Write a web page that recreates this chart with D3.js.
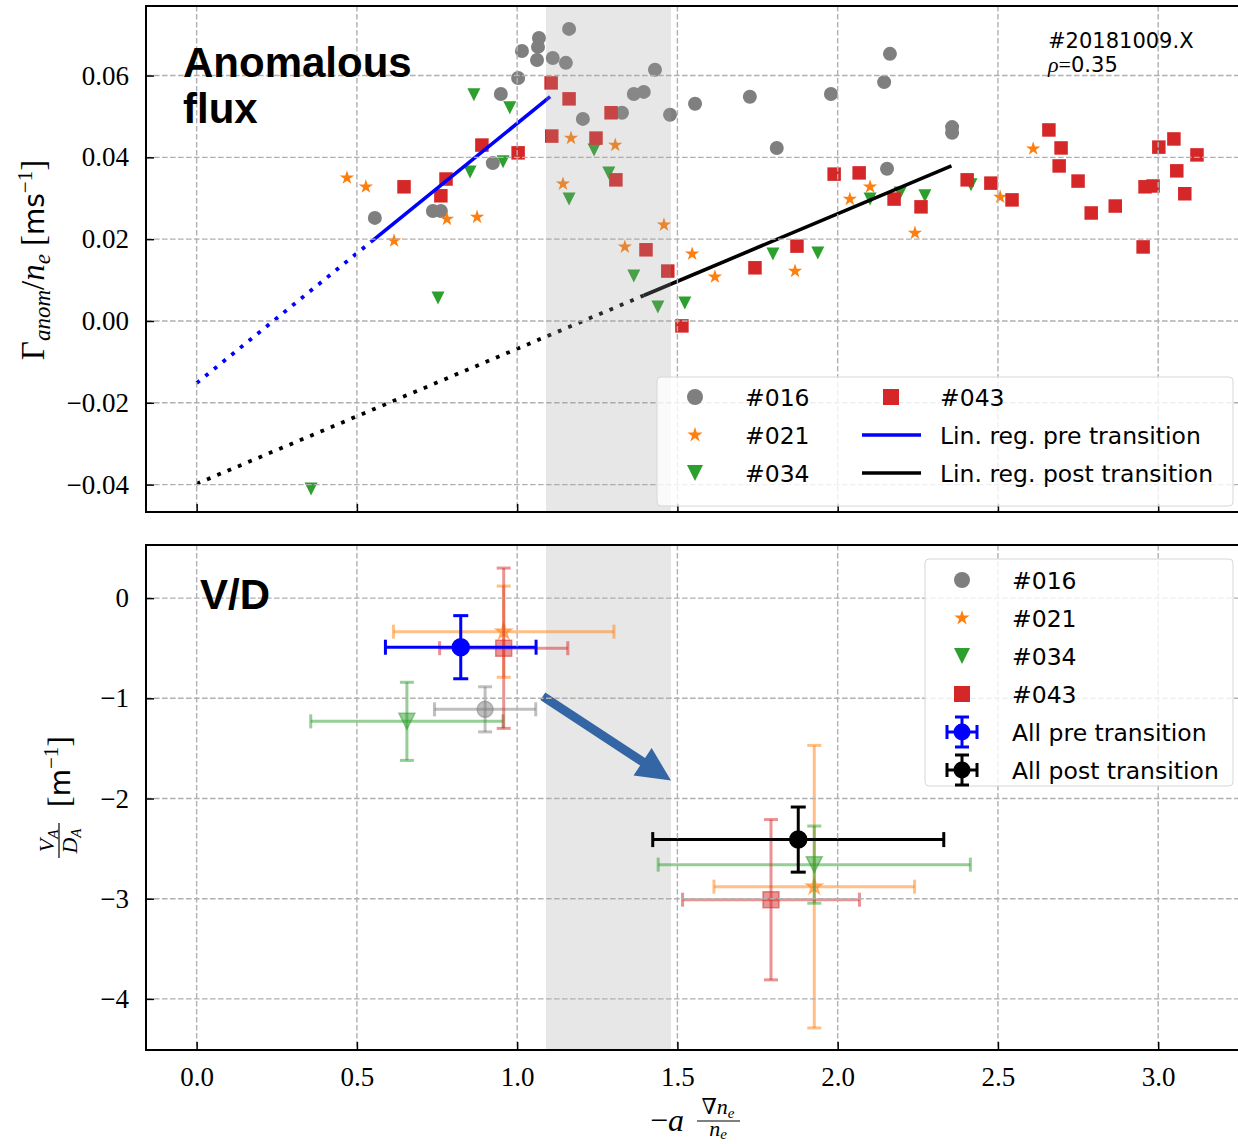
<!DOCTYPE html>
<html>
<head>
<meta charset="utf-8">
<script src="https://cdn.jsdelivr.net/npm/d3@7"></script>
<style>
  body { margin: 0; background: #fff; }
  svg { display: block; }
</style>
</head>
<body>
<svg id="chart" width="1238" height="1144"></svg>
<script>
// ---- data ----
var xTicks = [0, 0.5, 1.0, 1.5, 2.0, 2.5, 3.0];
var fluxTicks = [-0.04, -0.02, 0, 0.02, 0.04, 0.06];
var vdTicks = [-4, -3, -2, -1, 0];
var transitionBand = [1.09, 1.48];

// [gradient, flux] per discharge
var flux016 = [[0.556, 0.0252], [0.737, 0.0269], [0.762, 0.0269], [0.924, 0.0386], [0.949, 0.0555],
    [1.003, 0.0594], [1.015, 0.0660], [1.062, 0.0638], [1.065, 0.0670], [1.068, 0.0692],
    [1.111, 0.0643], [1.152, 0.0631], [1.162, 0.0714], [1.205, 0.0494], [1.327, 0.0509],
    [1.364, 0.0555], [1.395, 0.0560], [1.430, 0.0614], [1.477, 0.0504], [1.555, 0.0531],
    [1.726, 0.0548], [1.810, 0.0423], [1.979, 0.0555], [2.145, 0.0584], [2.163, 0.0653],
    [2.154, 0.0372], [2.357, 0.0474], [2.357, 0.0460]];
var flux021 = [[0.469, 0.0350], [0.528, 0.0328], [0.616, 0.0196], [0.781, 0.0249], [0.875, 0.0254],
    [1.143, 0.0335], [1.168, 0.0447], [1.306, 0.0430], [1.336, 0.0181], [1.458, 0.0235],
    [1.546, 0.0164], [1.617, 0.0108], [1.867, 0.0122], [2.038, 0.0298], [2.101, 0.0328],
    [2.241, 0.0215], [2.507, 0.0303], [2.610, 0.0421]];
var flux034 = [[0.357, -0.0411], [0.753, 0.0056], [0.853, 0.0364], [0.865, 0.0553], [0.956, 0.0389],
    [0.977, 0.0521], [1.162, 0.0298], [1.240, 0.0418], [1.286, 0.0362], [1.364, 0.0110],
    [1.439, 0.0034], [1.523, 0.0044], [1.798, 0.0164], [1.938, 0.0166], [2.101, 0.0298],
    [2.195, 0.0313], [2.272, 0.0306], [2.416, 0.0333]];
var flux043 = [[0.647, 0.0328], [0.762, 0.0306], [0.778, 0.0347], [0.890, 0.0430], [1.003, 0.0411],
    [1.106, 0.0582], [1.108, 0.0452], [1.162, 0.0543], [1.246, 0.0447], [1.293, 0.0509],
    [1.308, 0.0345], [1.402, 0.0174], [1.470, 0.0122], [1.514, -0.0012], [1.742, 0.0130],
    [1.873, 0.0183], [1.989, 0.0359], [2.067, 0.0362], [2.176, 0.0298], [2.260, 0.0279],
    [2.404, 0.0345], [2.478, 0.0337], [2.544, 0.0296], [2.659, 0.0467], [2.691, 0.0379],
    [2.697, 0.0423], [2.750, 0.0342], [2.791, 0.0264], [2.866, 0.0281], [2.953, 0.0181],
    [2.959, 0.0328], [2.984, 0.0330], [3.002, 0.0425], [3.049, 0.0445], [3.058, 0.0367],
    [3.083, 0.0311], [3.121, 0.0406]];

// linear regressions: [intercept, slope], fitted range [from, to]
var preFit = [-0.0152, 0.0635];
var preRange = [0.545, 1.103];
var postFit = [-0.0398, 0.0330];
var postRange = [1.395, 2.355];

// V/D estimates: [x, xerr, y, yerr]
var vd016 = [[0.900, 0.158, -1.11, 0.225]];
var vd021 = [[0.958, 0.344, -0.335, 0.455], [1.927, 0.313, -2.88, 1.41]];
var vd034 = [[0.656, 0.300, -1.23, 0.39], [1.927, 0.487, -2.66, 0.385]];
var vd043 = [[0.958, 0.200, -0.50, 0.80], [1.792, 0.276, -3.01, 0.80]];
var vdAllPre = [[0.824, 0.235, -0.49, 0.315]];
var vdAllPost = [[1.877, 0.454, -2.41, 0.325]];
var arrowFrom = [1.08, -0.98];
var arrowTo = [1.48, -1.82];

// ---- setup ----
var svg = d3.select("#chart");
var left = 146, right = 1238;
var topPanel = {top: 6, bottom: 512}, botPanel = {top: 545, bottom: 1050};

var x = d3.scaleLinear().domain([-0.158, 3.249]).range([left, right]);
var yFlux = d3.scaleLinear().domain([-0.0467, 0.077]).range([topPanel.bottom, topPanel.top]);
var yVD = d3.scaleLinear().domain([-4.51, 0.53]).range([botPanel.bottom, botPanel.top]);

var serif = "'Liberation Serif', 'DejaVu Serif', serif";
var sans = "'DejaVu Sans', sans-serif";

var shots = [
    {name: "#016", color: "#7f7f7f", shape: "circle", flux: flux016, vd: vd016},
    {name: "#021", color: "#ff7f0e", shape: "star", flux: flux021, vd: vd021},
    {name: "#034", color: "#2ca02c", shape: "tri", flux: flux034, vd: vd034},
    {name: "#043", color: "#d62728", shape: "square", flux: flux043, vd: vd043}
];

// matplotlib style 'v': as wide as it is tall
var triDown = {
    draw: function (ctx, size) {
        var h = Math.sqrt(size) / 2;
        ctx.moveTo(-h, -h);
        ctx.lineTo(h, -h);
        ctx.lineTo(0, h);
        ctx.closePath();
    }
};

var marker = function (shape, d) {
    if (shape == "circle") return d3.symbol(d3.symbolCircle, Math.PI * d * d / 4)();
    if (shape == "square") return d3.symbol(d3.symbolSquare, d * d)();
    if (shape == "star") return d3.symbol(d3.symbolStar, d * d / 4 / 0.8908130915292852)();
    return d3.symbol(triDown, d * d)();
};
var markerSize = {circle: 14, square: 13.5, star: 15, tri: 13};

var drawGrid = function (g, y, ticks, p) {
    g.selectAll(null).data(xTicks).enter().append("line")
        .attr("x1", function (d) { return x(d); }).attr("x2", function (d) { return x(d); })
        .attr("y1", p.top).attr("y2", p.bottom);
    g.selectAll(null).data(ticks).enter().append("line")
        .attr("x1", left).attr("x2", right)
        .attr("y1", function (d) { return y(d); }).attr("y2", function (d) { return y(d); });
    g.selectAll("line")
        .attr("stroke", "#b0b0b0")
        .attr("stroke-width", 1.4)
        .attr("stroke-dasharray", "5.6,2.4");
};

var drawBand = function (g, p) {
    g.append("rect")
        .attr("x", x(transitionBand[0]))
        .attr("width", x(transitionBand[1]) - x(transitionBand[0]))
        .attr("y", p.top).attr("height", p.bottom - p.top)
        .attr("fill", "#a0a0a0").attr("opacity", 0.25);
};

var drawAxes = function (y, ticks, fmt, p, labels) {
    var gy = svg.append("g").attr("transform", "translate(" + left + ",0)")
        .call(d3.axisLeft(y).tickValues(ticks).tickFormat(fmt)
            .tickSizeInner(-8).tickSizeOuter(0).tickPadding(17));
    var gx = svg.append("g").attr("transform", "translate(0," + p.bottom + ")")
        .call(d3.axisBottom(x).tickValues(xTicks).tickFormat(labels ? d3.format(".1f") : "")
            .tickSizeInner(-8).tickSizeOuter(0).tickPadding(17));
    [gy, gx].forEach(function (g) {
        g.select(".domain").remove();
        g.attr("font-family", serif).attr("font-size", 27);
        g.selectAll(".tick line").attr("stroke-width", 1.5);
        g.selectAll(".tick text").attr("fill", "#000");
    });
    svg.append("rect")
        .attr("x", left).attr("y", p.top)
        .attr("width", right + 4 - left).attr("height", p.bottom - p.top)
        .attr("fill", "none").attr("stroke", "#000").attr("stroke-width", 2);
};

// ---- top panel: anomalous flux ----
var gTop = svg.append("g");
shots.forEach(function (s) {
    gTop.append("g").selectAll("path").data(s.flux).enter().append("path")
        .attr("d", marker(s.shape, markerSize[s.shape]))
        .attr("transform", function (d) { return "translate(" + x(d[0]) + "," + yFlux(d[1]) + ")"; })
        .attr("fill", s.color);
});

var fitLine = function (fit, x0, x1, color, dotted) {
    var line = d3.line()
        .x(function (d) { return x(d); })
        .y(function (d) { return yFlux(fit[0] + fit[1] * d); });
    gTop.append("path")
        .datum([x0, x1])
        .attr("d", line)
        .attr("fill", "none")
        .attr("stroke", color)
        .attr("stroke-width", dotted ? 3.8 : 3.6)
        .attr("stroke-dasharray", dotted ? "3.8,7.4" : null);
};
fitLine(preFit, 0, preRange[0], "#0000ff", true);
fitLine(preFit, preRange[0], preRange[1], "#0000ff", false);
fitLine(postFit, 0, postRange[0], "#000", true);
fitLine(postFit, postRange[0], postRange[1], "#000", false);

drawGrid(svg.append("g"), yFlux, fluxTicks, topPanel);
drawBand(svg.append("g"), topPanel);
drawAxes(yFlux, fluxTicks, d3.format(".2f"), topPanel, false);

// ---- bottom panel: V/D ----
drawBand(svg.append("g"), botPanel);

var errorBar = function (g, d, color, alpha, shape, size, cap) {
    var cx = x(d[0]), cy = yVD(d[2]);
    var x0 = x(d[0] - d[1]), x1 = x(d[0] + d[1]);
    var y0 = yVD(d[2] + d[3]), y1 = yVD(d[2] - d[3]);
    var segs = [
        [x0, cy, x1, cy], [cx, y0, cx, y1],
        [x0, cy - cap, x0, cy + cap], [x1, cy - cap, x1, cy + cap],
        [cx - cap, y0, cx + cap, y0], [cx - cap, y1, cx + cap, y1]
    ];
    g.selectAll(null).data(segs).enter().append("line")
        .attr("x1", function (s) { return s[0]; }).attr("y1", function (s) { return s[1]; })
        .attr("x2", function (s) { return s[2]; }).attr("y2", function (s) { return s[3]; })
        .attr("stroke", color).attr("stroke-width", 3).attr("stroke-opacity", alpha);
    g.append("path")
        .attr("d", marker(shape, size))
        .attr("transform", "translate(" + cx + "," + cy + ")")
        .attr("fill", color).attr("fill-opacity", alpha)
        .attr("stroke", color).attr("stroke-opacity", alpha).attr("stroke-width", 1.5);
};

var gBot = svg.append("g");
shots.forEach(function (s) {
    s.vd.forEach(function (d) {
        errorBar(gBot, d, s.color, 0.5, s.shape, s.shape == "star" ? 17 : 16, 7);
    });
});
errorBar(gBot, vdAllPre[0], "#0000ff", 1, "circle", 17, 7.5);
errorBar(gBot, vdAllPost[0], "#000", 1, "circle", 17, 7.5);

// arrow from pre to post transition
(function () {
    var p0 = [x(arrowFrom[0]), yVD(arrowFrom[1])], p1 = [x(arrowTo[0]), yVD(arrowTo[1])];
    var dx = p1[0] - p0[0], dy = p1[1] - p0[1], len = Math.sqrt(dx * dx + dy * dy);
    var ux = dx / len, uy = dy / len, nx = -uy, ny = ux;
    var sw = 4.5, hw = 16.5, hl = 34;
    var bx = p1[0] - ux * hl, by = p1[1] - uy * hl;
    var pts = [
        [p0[0] + nx * sw, p0[1] + ny * sw], [bx + nx * sw, by + ny * sw], [bx + nx * hw, by + ny * hw],
        p1,
        [bx - nx * hw, by - ny * hw], [bx - nx * sw, by - ny * sw], [p0[0] - nx * sw, p0[1] - ny * sw]
    ];
    svg.append("path")
        .attr("d", "M" + pts.map(function (p) { return p[0] + "," + p[1]; }).join("L") + "Z")
        .attr("fill", "#3465a4");
})();

drawGrid(svg.append("g"), yVD, vdTicks, botPanel);
drawAxes(yVD, vdTicks, d3.format("d"), botPanel, true);

// ---- legends ----
var legendBox = function (x0, y0, w, h) {
    svg.append("rect")
        .attr("x", x0).attr("y", y0).attr("width", w).attr("height", h).attr("rx", 4)
        .attr("fill", "#fff").attr("fill-opacity", 0.8)
        .attr("stroke", "#d6d6d6").attr("stroke-width", 1);
};
var legendText = function (tx, ty, label) {
    svg.append("text")
        .attr("x", tx).attr("y", ty + 8.5)
        .attr("font-family", sans).attr("font-size", 23.5)
        .text(label);
};
var legendMarker = function (mx, my, shape, color) {
    svg.append("path")
        .attr("d", marker(shape, 16))
        .attr("transform", "translate(" + mx + "," + my + ")")
        .attr("fill", color);
};

// top legend, two columns
var topRows = [397, 435, 473];
legendBox(657, 377, 576, 129);
shots.slice(0, 3).forEach(function (s, i) {
    legendMarker(695, topRows[i], s.shape, s.color);
    legendText(745, topRows[i], s.name);
});
legendMarker(891, topRows[0], shots[3].shape, shots[3].color);
legendText(940, topRows[0], shots[3].name);
[["Lin. reg. pre transition", "#0000ff"], ["Lin. reg. post transition", "#000"]].forEach(function (l, i) {
    svg.append("line")
        .attr("x1", 862).attr("x2", 921)
        .attr("y1", topRows[i + 1]).attr("y2", topRows[i + 1])
        .attr("stroke", l[1]).attr("stroke-width", 3.6);
    legendText(940, topRows[i + 1], l[0]);
});

// bottom legend
legendBox(925, 559, 308, 227);
var botRows = [580, 618, 656, 694, 732, 770];
shots.forEach(function (s, i) {
    legendMarker(962, botRows[i], s.shape, s.color);
    legendText(1012, botRows[i], s.name);
});
[["All pre transition", "#0000ff"], ["All post transition", "#000"]].forEach(function (l, i) {
    var g = svg.append("g").attr("transform", "translate(962," + botRows[i + 4] + ")");
    var segs = [[-15, 0, 15, 0], [0, -15, 0, 15], [-15, -7, -15, 7], [15, -7, 15, 7], [-7, -15, 7, -15], [-7, 15, 7, 15]];
    g.selectAll(null).data(segs).enter().append("line")
        .attr("x1", function (s) { return s[0]; }).attr("y1", function (s) { return s[1]; })
        .attr("x2", function (s) { return s[2]; }).attr("y2", function (s) { return s[3]; })
        .attr("stroke", l[1]).attr("stroke-width", 3);
    g.append("circle").attr("r", 8.5).attr("fill", l[1]);
    legendText(1012, botRows[i + 4], l[0]);
});

// ---- panel titles and annotations ----
var bold = function (tx, ty, t) {
    svg.append("text").attr("x", tx).attr("y", ty)
        .attr("font-family", "'Liberation Sans', Arial, sans-serif")
        .attr("font-weight", "bold").attr("font-size", 42)
        .text(t);
};
bold(183, 77, "Anomalous");
bold(183, 123, "flux");
bold(200, 609, "V/D");

svg.append("text").attr("x", 1048).attr("y", 48)
    .attr("font-family", sans).attr("font-size", 21).text("#20181009.X");
var rho = svg.append("text").attr("x", 1048).attr("y", 72).attr("font-size", 22);
rho.append("tspan").attr("font-family", serif).attr("font-style", "italic").text("ρ");
rho.append("tspan").attr("font-family", serif).text("=");
rho.append("tspan").attr("font-family", sans).attr("font-size", 21).text("0.35");

// ---- axis labels ----
var yl = svg.append("text")
    .attr("transform", "translate(44,260) rotate(-90)")
    .attr("text-anchor", "middle")
    .attr("font-family", serif).attr("font-size", 33);
yl.append("tspan").text("Γ");
yl.append("tspan").attr("font-style", "italic").attr("font-size", 23).attr("dy", 6).text("anom");
yl.append("tspan").attr("dy", -6).text("/");
yl.append("tspan").attr("font-style", "italic").text("n");
yl.append("tspan").attr("font-style", "italic").attr("font-size", 23).attr("dy", 6).text("e");
yl.append("tspan").attr("dy", -6).attr("dx", 8).text("[");
yl.append("tspan").attr("font-family", sans).attr("font-size", 28).text("ms");
yl.append("tspan").attr("font-size", 21).attr("dy", -12).text("−1");
yl.append("tspan").attr("dy", 12).text("]");

var vl = svg.append("g").attr("transform", "translate(70,750) rotate(-90)");
var num = vl.append("text").attr("x", -91).attr("y", -16).attr("text-anchor", "middle")
    .attr("font-family", serif).attr("font-size", 22);
num.append("tspan").attr("font-style", "italic").text("V");
num.append("tspan").attr("font-style", "italic").attr("font-size", 15).attr("dy", 4).text("A");
vl.append("line").attr("x1", -108).attr("x2", -73).attr("y1", -11).attr("y2", -11)
    .attr("stroke", "#000").attr("stroke-width", 1.2);
var den = vl.append("text").attr("x", -91).attr("y", 7).attr("text-anchor", "middle")
    .attr("font-family", serif).attr("font-size", 22);
den.append("tspan").attr("font-style", "italic").text("D");
den.append("tspan").attr("font-style", "italic").attr("font-size", 15).attr("dy", 4).text("A");
var unit = vl.append("text").attr("x", -57).attr("y", 0)
    .attr("font-family", serif).attr("font-size", 32);
unit.append("tspan").text("[");
unit.append("tspan").attr("font-family", sans).attr("font-size", 28).text("m");
unit.append("tspan").attr("font-size", 21).attr("dy", -12).text("−1");
unit.append("tspan").attr("dy", 12).text("]");

var xl = svg.append("text").attr("x", 650).attr("y", 1131)
    .attr("font-family", serif).attr("font-size", 32);
xl.append("tspan").text("−");
xl.append("tspan").attr("font-style", "italic").text("a");
var xn = svg.append("text").attr("x", 718).attr("y", 1114).attr("text-anchor", "middle")
    .attr("font-family", serif).attr("font-size", 22);
xn.append("tspan").text("∇");
xn.append("tspan").attr("font-style", "italic").text("n");
xn.append("tspan").attr("font-style", "italic").attr("font-size", 15).attr("dy", 4).text("e");
svg.append("line").attr("x1", 697).attr("x2", 740).attr("y1", 1121).attr("y2", 1121)
    .attr("stroke", "#000").attr("stroke-width", 1.2);
var xd = svg.append("text").attr("x", 718).attr("y", 1136).attr("text-anchor", "middle")
    .attr("font-family", serif).attr("font-size", 22);
xd.append("tspan").attr("font-style", "italic").text("n");
xd.append("tspan").attr("font-style", "italic").attr("font-size", 15).attr("dy", 3).text("e");
</script>
</body>
</html>
